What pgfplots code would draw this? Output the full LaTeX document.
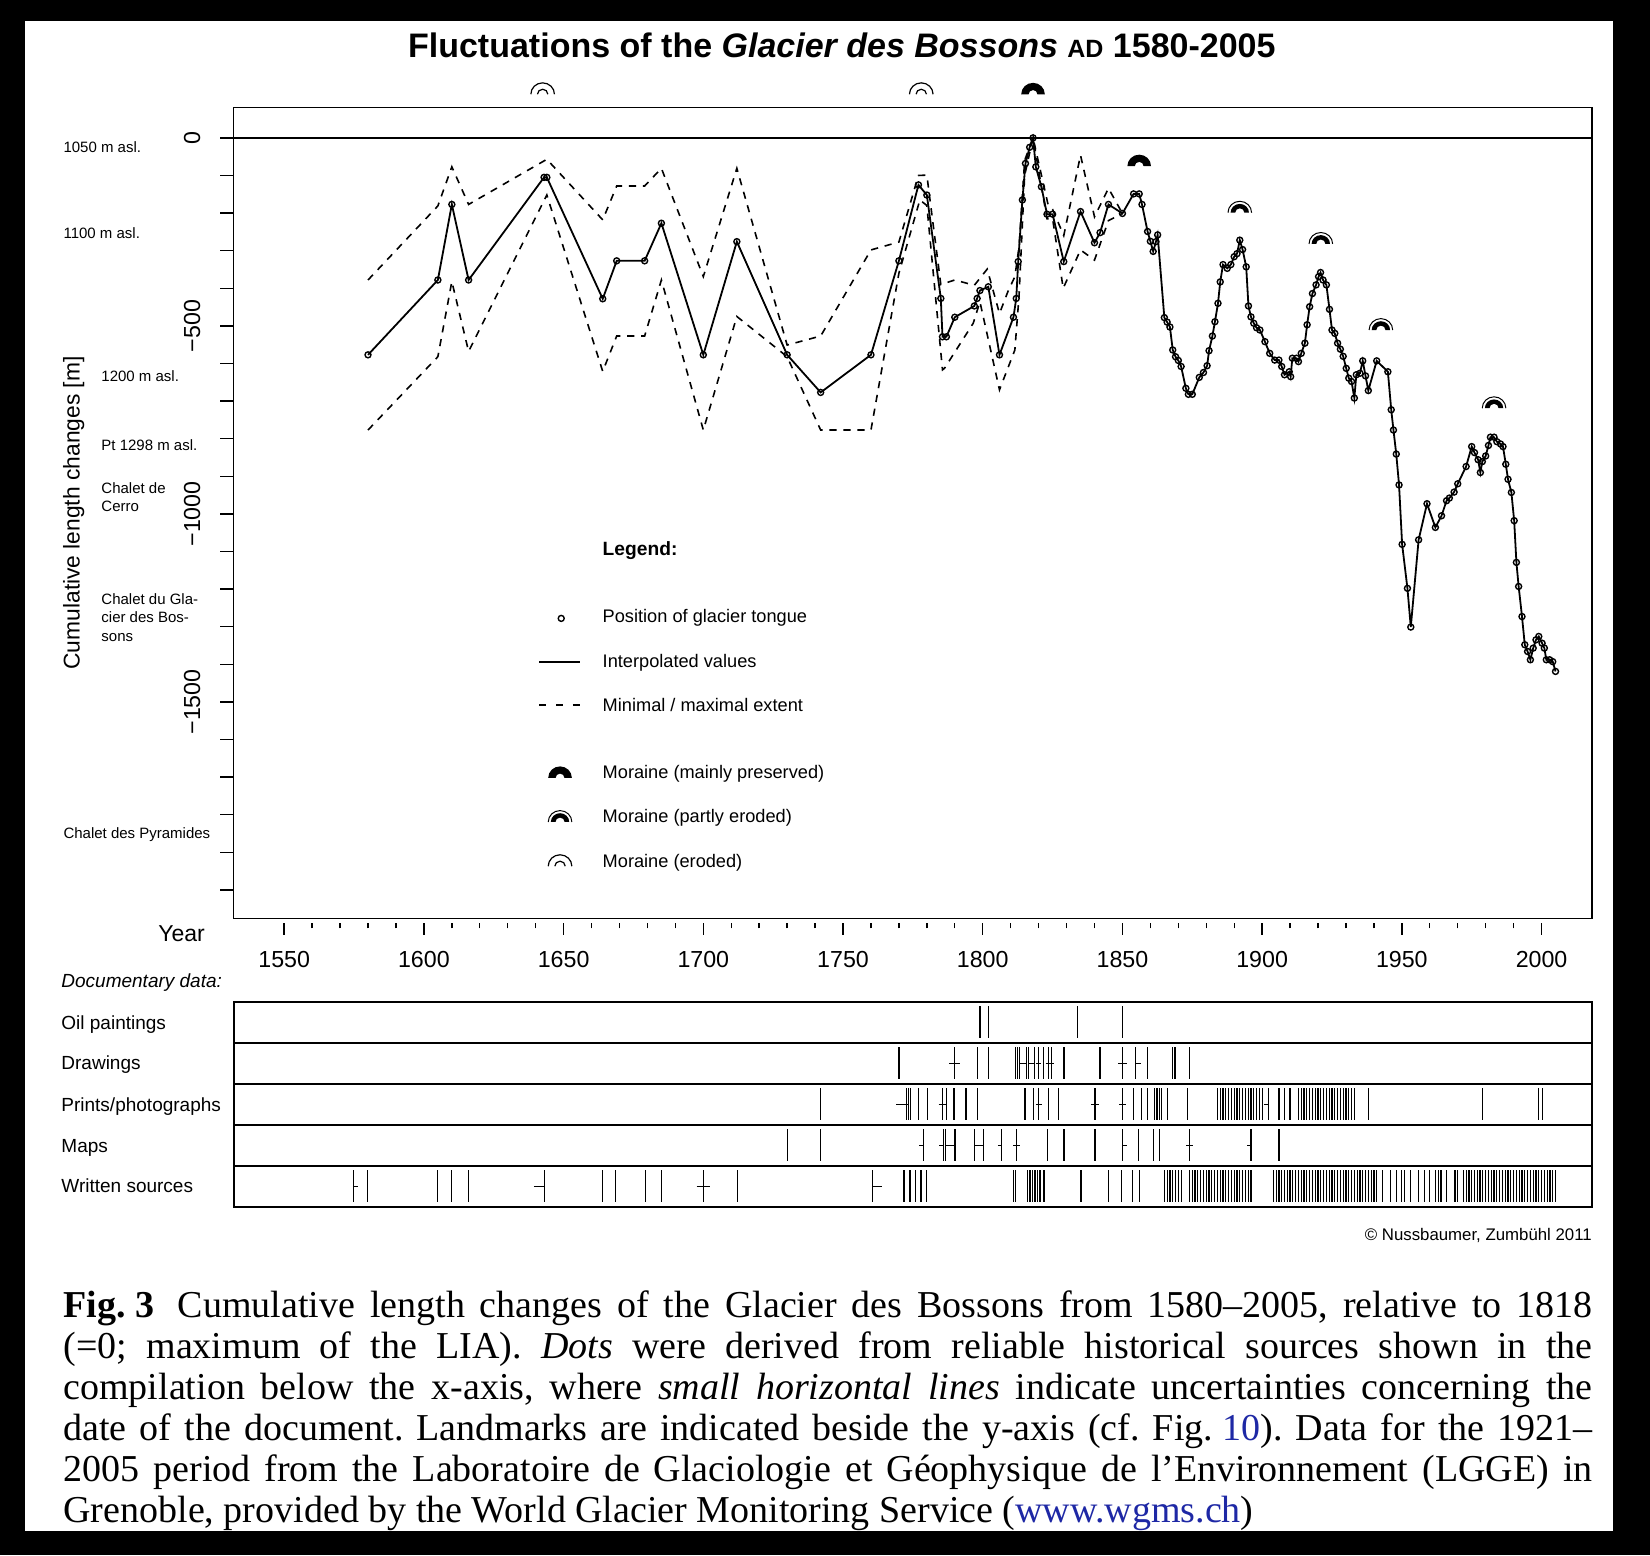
\documentclass[border=0pt]{standalone}
\usepackage{fontspec}
\setmainfont{Liberation Sans}
\newfontfamily\capfont{Liberation Serif}
\usepackage{pgfplots}
\pgfplotsset{compat=1.18}
\definecolor{capblue}{RGB}{30,40,165}

% moraine marks (origin = base centre)
\pgfdeclareplotmark{morA}{%
  \pgfpathmoveto{\pgfqpoint{-5.9pt}{0pt}}%
  \pgfpatharc{180}{0}{5.9pt and 5.7pt}%
  \pgfpathlineto{\pgfqpoint{2.2pt}{0pt}}%
  \pgfpatharc{0}{180}{2.2pt and 2.1pt}%
  \pgfpathclose\pgfusepathqfill}
\pgfdeclareplotmark{morB}{%
  \pgfsetlinewidth{0.5pt}%
  \pgfpathmoveto{\pgfqpoint{-5.9pt}{0pt}}%
  \pgfpatharc{180}{0}{5.9pt and 5.7pt}%
  \pgfusepathqstroke
  \pgfpathmoveto{\pgfqpoint{-4.6pt}{0pt}}%
  \pgfpatharc{180}{0}{4.6pt and 4.4pt}%
  \pgfpathlineto{\pgfqpoint{2.3pt}{0pt}}%
  \pgfpatharc{0}{180}{2.3pt and 2.2pt}%
  \pgfpathclose\pgfusepathqfill}
\pgfdeclareplotmark{morC}{%
  \pgfsetlinewidth{0.6pt}%
  \pgfpathmoveto{\pgfqpoint{-5.9pt}{0pt}}%
  \pgfpatharc{180}{0}{5.9pt and 5.7pt}%
  \pgfusepathqstroke
  \pgfpathmoveto{\pgfqpoint{-2.6pt}{0pt}}%
  \pgfpatharc{180}{0}{2.6pt and 2.5pt}%
  \pgfusepathqstroke}

\pgfplotsset{
  docrow/.style={anchor=south west, scale only axis, width=679.26pt, height=20.5pt,
    xmin=1531.9, xmax=2018.1, ymin=-0.15, ymax=1.15, xtick=\empty, ytick=\empty,
    axis line style={line width=0.9pt}},
  docv/.style={black, only marks, mark=|, mark size=7.9pt, mark options={line width=0.6pt}},
  doch/.style={black, line width=0.6pt, mark=none, unbounded coords=jump},
}

\begin{document}
\frenchspacing
\begin{tikzpicture}[x=0.52615pt,y=-0.52615pt]
\fill[black] (0,0) rectangle (1568,1478);
\fill[white] (23.8,19.7) rectangle (1533,1455);

% title
\node[font=\fontsize{17}{20}\selectfont\bfseries] at (800,43)
  {Fluctuations of the \textit{Glacier des Bossons} {\fontsize{12.5}{14}\selectfont AD} 1580-2005};

% landmarks
\begin{scope}[every node/.style={font=\fontsize{7.5}{9}\selectfont, inner sep=0pt}]
\node[anchor=base west] at (60,145.1) {1050 m asl.};
\node[anchor=base west] at (60,227.1) {1100 m asl.};
\node[anchor=base west] at (96,362.1) {1200 m asl.};
\node[anchor=base west] at (96,428.1) {Pt 1298 m asl.};
\node[anchor=north west, align=left, font=\fontsize{7.5}{8.95}\selectfont] at (96,458.7) {Chalet de\\Cerro};
\node[anchor=north west, align=left, font=\fontsize{7.5}{9.2}\selectfont] at (96,563.7) {Chalet du Gla-\\cier des Bos-\\sons};
\node[anchor=base west] at (60,797.1) {Chalet des Pyramides};
\end{scope}

\node[font=\fontsize{11.5}{13}\selectfont] at (172.5,887) {Year};
\node[anchor=base west, font=\fontsize{9.5}{11}\selectfont\itshape, inner sep=0pt] at (58,938.5) {Documentary data:};
\begin{scope}[every node/.style={anchor=base west, font=\fontsize{9.5}{11}\selectfont, inner sep=0pt}]
\node at (58,977.9) {Oil paintings};
\node at (58,1016.8) {Drawings};
\node at (58,1055.8) {Prints/photographs};
\node at (58,1094.8) {Maps};
\node at (58,1133.7) {Written sources};
\end{scope}
\node[anchor=base east, font=\fontsize{8.4}{10}\selectfont, inner sep=0pt] at (1513,1178.7) {© Nussbaumer, Zumbühl 2011};

% caption
\node[anchor=north west, inner sep=0pt, align=left, font=\capfont\fontsize{19}{20.52}\selectfont] at (60,1226) {%
\makebox[764.5pt][s]{\textbf{Fig.\hspace{0.25em}3}\hspace{0.62em}Cumulative length changes of the Glacier des Bossons from 1580–2005, relative to 1818}\\
\makebox[764.5pt][s]{(=0; maximum of the LIA). \textit{Dots} were derived from reliable historical sources shown in the}\\
\makebox[764.5pt][s]{compilation below the x-axis, where \textit{small horizontal lines} indicate uncertainties concerning the}\\
\makebox[764.5pt][s]{date of the document. Landmarks are indicated beside the y-axis (cf. Fig.\hspace{0.25em}{\color{capblue}10}). Data for the 1921–}\\
\makebox[764.5pt][s]{2005 period from the Laboratoire de Glaciologie et Géophysique de l’Environnement (LGGE) in}\\
Grenoble, provided by the World Glacier Monitoring Service ({\color{capblue}www.wgms.ch})};

% ================= main axis
\begin{axis}[
  at={(116.81pt,-459.33pt)}, anchor=south west,
  scale only axis, width=679.26pt, height=405.66pt,
  xmin=1531.9, xmax=2018.1, ymin=-2076.5, ymax=81.2,
  clip=false,
  xtick=\empty,
  ytick={0,-500,-1000,-1500},
  yticklabels={0,−500,−1000,−1500},
  minor ytick={-2000,-1900,...,-100},
  ytick pos=left, tick align=outside,
  major tick length=6.7pt, minor tick length=6.7pt,
  tick style={black, line width=0.7pt},
  yticklabel style={rotate=90, anchor=south, inner sep=0pt, font=\fontsize{11.6}{13}\selectfont},
  yticklabel shift=9.7pt,
  ylabel={Cumulative length changes [m]},
  ylabel style={at={(axis description cs:-0.1177,0.5)}, anchor=center, inner sep=0pt, font=\fontsize{11.4}{13}\selectfont},
  axis line style={line width=0.8pt},
  legend style={at={(0.2243,0.4698)}, anchor=north west, draw=none, fill=none,
    inner sep=0pt, outer sep=0pt, row sep=10.6pt,
    font=\fontsize{9.1}{11}\selectfont,
    nodes={inner sep=0pt, text height=9pt, text depth=2.5pt},
    /tikz/every odd column/.style={column sep=10.8pt}},
  legend cell align=left,
]
\addplot[black, line width=0.8pt, forget plot] coordinates {(1531.9,0) (2018.1,0)};

% maximal extent
\addplot[black, line width=0.8pt, dash pattern=on 3.6pt off 3.4pt, forget plot] coordinates {
(1580,-378) (1605,-181) (1610,-77) (1616,-177) (1644,-57) (1664,-218) (1669,-128) (1679,-128)
(1685,-81) (1700,-369) (1712,-81) (1730,-551) (1742,-527) (1760,-298) (1770,-277) (1777,-100)
(1780,-99) (1785,-390) (1790,-378) (1797,-392) (1801.6,-349) (1806,-467) (1809,-409) (1811.5,-369)
(1813,-290) (1815,-60) (1818,0) (1823.4,-178) (1825,-190) (1829,-260) (1835,-46) (1840,-210)
(1845,-134) (1850,-201)};
% minimal extent
\addplot[black, line width=0.8pt, dash pattern=on 3.6pt off 3.4pt, forget plot] coordinates {
(1580,-777) (1605,-582) (1610,-382) (1616,-568) (1644,-152) (1664,-621) (1669,-527) (1679,-527)
(1685,-378) (1700,-777) (1712,-475) (1730,-582) (1742,-777) (1760,-777) (1770,-360) (1777.5,-165)
(1780,-180) (1785.6,-617) (1786.3,-613) (1796.6,-493) (1799,-436) (1806,-670) (1811.5,-564)
(1813,-420) (1815,-100) (1818,0) (1823,-215) (1825,-215) (1828.8,-400) (1835,-298) (1840,-325)
(1845,-220) (1850,-201)};

% positions of the glacier tongue
\addplot[black, line width=0.9pt, mark=o, mark size=1.5pt, mark options={line width=0.7pt}, forget plot] coordinates {
(1580,-577) (1605,-378) (1610,-177) (1616,-378) (1643,-105) (1644,-105) (1664,-428) (1669,-327)
(1679,-327) (1685,-227) (1700,-577) (1712,-276) (1730,-577) (1742,-677) (1760,-577) (1770,-327)
(1777,-125) (1780,-152) (1785,-427) (1785.6,-529) (1787,-529) (1790,-477) (1797,-447) (1798,-427)
(1799,-406) (1802,-396) (1806,-577) (1811,-477) (1812,-427) (1812.7,-329) (1814.2,-165) (1815.3,-68)
(1816.8,-25) (1818,0) (1819,-77) (1821,-130) (1823,-203) (1825,-203) (1829,-329) (1835,-196)
(1840,-279) (1842,-252) (1845,-177) (1850,-201) (1854,-149) (1856,-149) (1857,-177) (1859,-249)
(1860,-275) (1861,-302) (1862,-276) (1862.6,-258) (1865,-478) (1866,-490) (1867,-503) (1868,-564)
(1869,-582) (1870,-592) (1871,-608) (1872.7,-666) (1873.6,-682) (1875,-682) (1877.5,-637) (1879,-624)
(1880.3,-606) (1881,-566) (1882.2,-527) (1883.1,-489) (1884.2,-440) (1885,-383) (1886,-337) (1887.5,-347)
(1888.8,-337) (1890,-316) (1891,-308) (1892,-272) (1893,-297) (1894.3,-343) (1895.1,-447) (1896,-476)
(1897,-493) (1898,-505) (1899.2,-511) (1901,-542) (1902.7,-573) (1904.5,-591) (1906,-591) (1907,-608)
(1908,-630) (1909.7,-622) (1910.2,-635) (1910.8,-586) (1912.3,-586) (1913,-595) (1914,-573) (1915.3,-546)
(1916.1,-497) (1917,-449) (1918,-414) (1919.3,-391) (1920.2,-369) (1920.9,-358) (1921.8,-378) (1923,-391)
(1924.1,-456) (1925,-511) (1926,-520) (1927,-546) (1928,-562) (1929,-581) (1930.1,-613) (1931,-639)
(1932,-648) (1933,-692) (1933.7,-630) (1935,-626) (1936,-593) (1937,-633) (1938,-672) (1941,-593)
(1945,-622) (1946.2,-723) (1947,-777) (1948,-841) (1949,-923) (1950.1,-1081) (1952,-1198) (1953.2,-1301)
(1956,-1069) (1959,-973) (1962,-1036) (1964.2,-1005) (1966,-965) (1967,-958) (1968.7,-942) (1970,-920)
(1973,-874) (1975,-821) (1976,-837) (1977.3,-856) (1978.1,-890) (1978.8,-861) (1980,-846) (1981,-818)
(1981.7,-796) (1983,-796) (1984,-808) (1985.3,-814) (1986.2,-821) (1987.2,-868) (1988,-908) (1989.2,-943)
(1990.2,-1018) (1991,-1129) (1991.8,-1193) (1993,-1273) (1994,-1348) (1995,-1366) (1996,-1388) (1997,-1357)
(1998,-1335) (1999,-1326) (2000.2,-1344) (2001,-1357) (2001.7,-1388) (2002.9,-1388) (2004,-1393) (2005,-1419)};

% moraines
\addplot[black, only marks, mark=morA, forget plot] coordinates {(1818,116) (1856,-75)};
\addplot[black, only marks, mark=morB, forget plot] coordinates {(1892,-199) (1921,-282) (1942.5,-511) (1983,-719)};
\addplot[black, only marks, mark=morC, forget plot] coordinates {(1642.5,116) (1778,116)};

% legend
\addlegendimage{empty legend}
\addlegendentry{{\fontsize{9.6}{11}\selectfont\bfseries Legend:}}
\addlegendimage{empty legend}
\addlegendentry[text height=0.8pt, text depth=0pt]{\mbox{}}
\addlegendimage{legend image code/.code={\draw[black, line width=0.7pt, only marks, mark=o, mark size=1.5pt] plot coordinates {(11pt,-1pt)};}}
\addlegendentry{Position of glacier tongue}
\addlegendimage{legend image code/.code={\draw[black, line width=0.9pt] (0pt,-0.5pt) -- (20.5pt,-0.5pt);}}
\addlegendentry{Interpolated values}
\addlegendimage{legend image code/.code={\draw[black, line width=0.8pt, dash pattern=on 3.6pt off 4.8pt] (0pt,0pt) -- (20.5pt,0pt);}}
\addlegendentry{Minimal / maximal extent}
\addlegendimage{empty legend}
\addlegendentry[text height=0.2pt, text depth=0pt]{\mbox{}}
\addlegendimage{legend image code/.code={\draw[black, only marks, mark=morA] plot coordinates {(10.4pt,-2.8pt)};}}
\addlegendentry{Moraine (mainly preserved)}
\addlegendimage{legend image code/.code={\draw[black, only marks, mark=morB] plot coordinates {(10.4pt,-2.8pt)};}}
\addlegendentry{Moraine (partly eroded)}
\addlegendimage{legend image code/.code={\draw[black, only marks, mark=morC] plot coordinates {(10.4pt,-2.8pt)};}}
\addlegendentry{Moraine (eroded)}
\end{axis}

% ================= year axis
\begin{axis}[
  at={(116.81pt,-461.43pt)}, anchor=south west,
  scale only axis, width=679.26pt, height=1pt,
  xmin=1531.9, xmax=2018.1, ymin=0, ymax=1,
  hide y axis, axis x line*=bottom, x axis line style={draw=none},
  xtick={1550,1600,1650,1700,1750,1800,1850,1900,1950,2000},
  xticklabels={1550,1600,1650,1700,1750,1800,1850,1900,1950,2000},
  minor x tick num=4, tick align=outside,
  major tick length=6pt, minor tick length=2.8pt,
  tick style={black, line width=0.7pt},
  xticklabel style={anchor=north, inner sep=0pt, font=\fontsize{11.6}{13}\selectfont},
  xticklabel shift=8.2pt,
]
\addplot[draw=none, forget plot] coordinates {(1550,0.5) (2000,0.5)};
\end{axis}

% ================= documentary data rows
\begin{axis}[docrow, at={(116.81pt,-521.34pt)}]
\addplot[docv] coordinates {(1799,.5) (1802,.5) (1834,.5) (1850,.5)};
\end{axis}

\begin{axis}[docrow, at={(116.81pt,-541.84pt)}]
\addplot[docv] coordinates {(1770,.5) (1790,.5) (1798,.5) (1802,.5) (1811.8,.5) (1812.5,.5) (1813.3,.5)
(1815.7,.5) (1816.5,.5) (1818.5,.5) (1819.9,.5) (1821.7,.5) (1823.5,.5) (1824.7,.5) (1829.1,.5) (1842,.5)
(1850,.5) (1854.8,.5) (1859,.5) (1868,.5) (1868.8,.5) (1874,.5)};
\addplot[doch] coordinates {(1788,.5) (1792,.5) (1792,nan) (1813.3,.5) (1815.7,.5) (1815.7,nan)
(1816.5,.5) (1818.5,.5) (1818.5,nan) (1819,.5) (1821,.5) (1821,nan) (1822.5,.5) (1825.5,.5) (1825.5,nan)
(1848.5,.5) (1851.5,.5) (1851.5,nan) (1854.8,.5) (1856.8,.5)};
\end{axis}

\begin{axis}[docrow, at={(116.81pt,-562.34pt)}]
\addplot[docv] coordinates {(1742,.5) (1772.8,.5) (1773.4,.5) (1774.2,.5) (1776.9,.5) (1780.2,.5)
(1785.5,.5) (1787.1,.5) (1789.7,.5) (1794,.5) (1798.1,.5) (1815.1,.5) (1818.1,.5) (1820.1,.5) (1823.5,.5)
(1827,.5) (1840.2,.5) (1850.1,.5) (1854.1,.5) (1856.9,.5) (1859,.5) (1861.6,.5) (1862.4,.5) (1863.2,.5)
(1864,.5) (1866,.5) (1873.2,.5)
(1884,.5) (1885,.5) (1886,.5) (1887,.5) (1888,.5) (1889,.5) (1890,.5) (1891,.5) (1892,.5) (1893,.5)
(1894,.5) (1895,.5) (1896,.5) (1897,.5) (1898,.5) (1899,.5) (1900,.5) (1902.2,.5) (1906,.5) (1908,.5)
(1910,.5) (1913,.5) (1914,.5) (1915,.5) (1916,.5) (1917,.5) (1918,.5) (1919,.5) (1920,.5) (1921,.5)
(1922,.5) (1923,.5) (1924,.5) (1925,.5) (1926,.5) (1927,.5) (1928,.5) (1929,.5) (1930,.5) (1931,.5)
(1932,.5) (1933,.5) (1938,.5) (1979,.5) (1999,.5) (2000.2,.5)};
\addplot[doch] coordinates {(1769,.5) (1773.4,.5) (1773.4,nan) (1784.2,.5) (1787.1,.5) (1787.1,nan)
(1819,.5) (1821.2,.5) (1821.2,nan) (1838.9,.5) (1841.5,.5) (1841.5,nan) (1848.9,.5) (1851.3,.5) (1851.3,nan)
(1900.8,.5) (1902.2,.5)};
\end{axis}

\begin{axis}[docrow, at={(116.81pt,-582.84pt)}]
\addplot[docv] coordinates {(1730,.5) (1742,.5) (1778.7,.5) (1785.9,.5) (1786.7,.5) (1790.1,.5) (1797,.5)
(1800.2,.5) (1806.8,.5) (1812.1,.5) (1823.2,.5) (1829.1,.5) (1840.2,.5) (1850.1,.5) (1855.8,.5) (1861,.5)
(1863.2,.5) (1874.1,.5) (1896,.5) (1906,.5)};
\addplot[doch] coordinates {(1777.3,.5) (1778.7,.5) (1778.7,nan) (1784.5,.5) (1785.9,.5) (1785.9,nan)
(1786.7,.5) (1790.1,.5) (1790.1,nan) (1797,.5) (1800.2,.5) (1800.2,nan) (1805.4,.5) (1806.8,.5) (1806.8,nan)
(1810.9,.5) (1813.3,.5) (1813.3,nan) (1850.1,.5) (1851.7,.5) (1851.7,nan) (1872.9,.5) (1875.3,.5) (1875.3,nan)
(1894.6,.5) (1896,.5)};
\end{axis}

\begin{axis}[docrow, at={(116.81pt,-603.34pt)}]
\addplot[docv] coordinates {(1574.7,.5) (1579.8,.5) (1605,.5) (1610,.5) (1616,.5) (1643.1,.5) (1664,.5)
(1668.7,.5) (1679.4,.5) (1684.9,.5) (1700,.5) (1712.3,.5) (1760.6,.5) (1771.8,.5) (1774,.5) (1776,.5)
(1777.9,.5) (1779.9,.5) (1810.9,.5) (1811.8,.5) (1816,.5) (1816.9,.5) (1817.9,.5) (1818.7,.5) (1819.5,.5)
(1820.5,.5) (1821.9,.5) (1835.2,.5) (1844.9,.5) (1849.7,.5) (1853.6,.5) (1856,.5)
(1865,.5) (1866,.5) (1867,.5) (1868,.5) (1869,.5) (1870,.5) (1871,.5)
(1874,.5) (1875,.5) (1876,.5) (1877,.5) (1878,.5) (1879,.5) (1880,.5) (1881,.5) (1882,.5) (1883,.5)
(1884,.5) (1885,.5) (1886,.5) (1887,.5) (1888,.5) (1889,.5) (1890,.5) (1891,.5) (1892,.5) (1893,.5)
(1894,.5) (1895,.5) (1896,.5)
(1904,.5) (1905,.5) (1906,.5) (1907,.5) (1908,.5) (1909,.5) (1910,.5) (1911,.5) (1912,.5) (1913,.5)
(1914,.5) (1915,.5) (1916,.5) (1917,.5) (1918,.5) (1919,.5) (1920,.5) (1921,.5) (1922,.5) (1923,.5)
(1924,.5) (1925,.5) (1926,.5) (1927,.5) (1928,.5) (1929,.5) (1930,.5) (1931,.5) (1932,.5) (1933,.5)
(1934,.5) (1935,.5) (1936,.5) (1937,.5) (1938,.5) (1939,.5) (1940,.5) (1941,.5)
(1943,.5) (1946,.5) (1948,.5) (1950,.5) (1951,.5) (1953,.5) (1956,.5) (1958,.5) (1960,.5) (1962,.5)
(1963,.5) (1964,.5) (1966,.5) (1969,.5) (1970,.5)
(1972,.5) (1973,.5) (1974,.5) (1975,.5) (1976,.5) (1977,.5) (1978,.5) (1979,.5) (1980,.5) (1981,.5)
(1982,.5) (1983,.5) (1984,.5) (1985,.5) (1986,.5) (1987,.5) (1988,.5) (1989,.5) (1990,.5) (1991,.5)
(1992,.5) (1993,.5) (1994,.5) (1995,.5) (1996,.5) (1997,.5) (1998,.5) (1999,.5) (2000,.5) (2001,.5)
(2002,.5) (2003,.5) (2004,.5) (2005,.5)};
\addplot[doch] coordinates {(1574.7,.5) (1576.5,.5) (1576.5,nan) (1639.4,.5) (1643.1,.5) (1643.1,nan)
(1697.6,.5) (1702.4,.5) (1702.4,nan) (1760.6,.5) (1764,.5)};
\end{axis}

\pgfresetboundingbox
\path[use as bounding box] (0,0) rectangle (1568,1478);
\end{tikzpicture}
\end{document}
